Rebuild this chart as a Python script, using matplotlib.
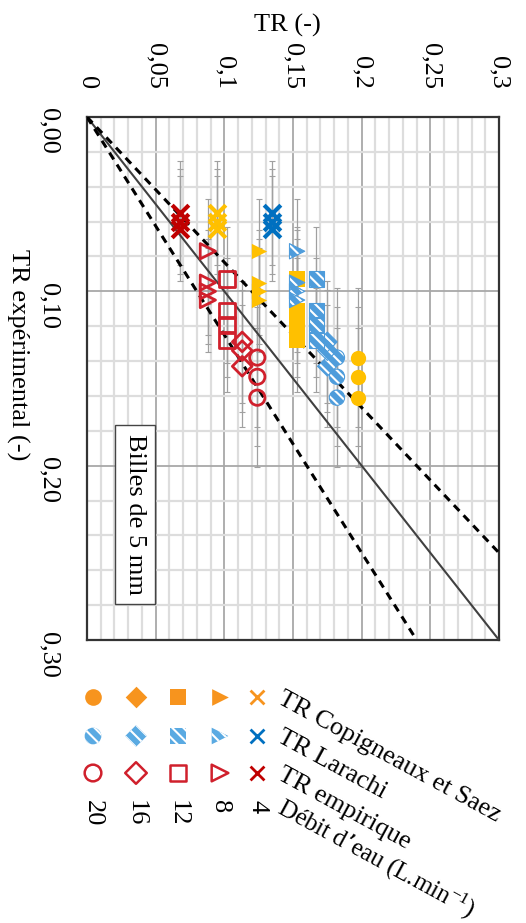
import numpy as np
import matplotlib as mpl

mpl.use("Agg")

import matplotlib.pyplot as plt
from matplotlib.ticker import MultipleLocator

mpl.rcParams["font.family"] = ["Liberation Serif", "DejaVu Serif"]
mpl.rcParams["mathtext.default"] = "regular"
mpl.rcParams["hatch.linewidth"] = 1.5

# water flow rates (L/min) and the measured TR of each run
flows = [20, 16, 12, 8, 4]
exp_20 = [0.138, 0.149, 0.161]
exp_16 = [0.129, 0.134, 0.143]
exp_12 = [0.093, 0.111, 0.119, 0.128]
exp_8 = [0.077, 0.095, 0.100, 0.105]
exp_4 = [0.055, 0.060, 0.064]
err_exp = [0.04, 0.035, 0.03, 0.03, 0.03]

# predicted TR per model and flow rate (None: not visible on the chart)
tr_copigneaux = [0.197, None, 0.153, 0.125, 0.095]
tr_larachi = [0.182, 0.175, 0.167, 0.153, 0.135]
tr_empirique = [0.124, 0.113, 0.102, 0.088, 0.068]

model_names = ["TR Copigneaux et Saez", "TR Larachi", "TR empirique"]
flow_title = "Débit d’eau (L.min$^{-1}$)"

tr_ticks = [0, 0.05, 0.1, 0.15, 0.2, 0.25, 0.3]
tr_labels = ["0", "0,05", "0,1", "0,15", "0,2", "0,25", "0,3"]
exp_ticks = [0, 0.1, 0.2, 0.3]
exp_labels = ["0,00", "0,10", "0,20", "0,30"]

W, H = 526, 923
FS = 19
HATCH = "\\\\\\"
shapes = ["o", "D", "s", ">", "x"]
sizes = [11, 10, 11, 11, 12]
yellow = "#FFC000"
blue = "#4E9CDB"
blue_x = "#0070C0"
red = "#D0202C"
red_x = "#C00000"

fig = plt.figure(figsize=(W / 100, H / 100), dpi=100)
ax = fig.add_axes([87 / W, 1 - 640 / H, 412 / W, 523 / H])
ax.set_xlim(0, 0.3)
ax.set_ylim(0.3, 0)
ax.xaxis.tick_top()
ax.set_xticks(tr_ticks, tr_labels)
ax.set_yticks(exp_ticks, exp_labels)
ax.xaxis.set_minor_locator(MultipleLocator(0.01))
ax.yaxis.set_minor_locator(MultipleLocator(0.02))
ax.tick_params(which="both", length=0)
ax.tick_params(axis="both", labelrotation=-90, labelsize=FS, pad=20)
ax.grid(which="minor", color="#dddddd", linewidth=1.6)
ax.grid(which="major", color="#a8a8a8", linewidth=1.3)
ax.set_axisbelow(True)
for spine in ax.spines.values():
    spine.set_color("#333333")
    spine.set_linewidth(1.6)

# y = x and +/-20 % lines
line = np.array([0, 0.3])
ax.plot(line, line, color="#404040", linewidth=1.5, zorder=3)
ax.plot(1.2 * line, line, color="black", linewidth=2.2,
        dashes=(2.6, 2.0), zorder=3)
ax.plot(0.8 * line, line, color="black", linewidth=2.2,
        dashes=(2.6, 2.0), zorder=3)

exp_groups = [exp_20, exp_16, exp_12, exp_8, exp_4]
for i, exp in enumerate(exp_groups):
    n = len(exp)
    m = shapes[i]
    s = sizes[i] ** 2
    for tr in (tr_empirique[i], tr_copigneaux[i], tr_larachi[i]):
        if tr is None:
            continue
        ax.errorbar([tr] * n, exp, yerr=err_exp[i], fmt="none",
                    ecolor="#a0a0a0", elinewidth=0.9, capsize=2.5,
                    capthick=0.8, zorder=2)
    # empirique: open red markers
    if m == "x":
        ax.scatter([tr_empirique[i]] * n, exp, s=s, marker=m,
                   color=red_x, linewidths=3, zorder=5)
    else:
        ax.scatter([tr_empirique[i]] * n, exp, s=s, marker=m,
                   facecolor="none", edgecolor=red, linewidths=2, zorder=5)
    # Copigneaux et Saez: filled yellow
    if tr_copigneaux[i] is not None:
        if m == "x":
            ax.scatter([tr_copigneaux[i]] * n, exp, s=s, marker=m,
                       color=yellow, linewidths=3, zorder=5)
        else:
            ax.scatter([tr_copigneaux[i]] * n, exp, s=s, marker=m,
                       color=yellow, linewidths=0, zorder=5)
    # Larachi: hatched blue
    if m == "x":
        ax.scatter([tr_larachi[i]] * n, exp, s=s, marker=m,
                   color=blue_x, linewidths=3, zorder=6)
    else:
        ax.scatter([tr_larachi[i]] * n, exp, s=s, marker=m,
                   facecolor=blue, edgecolor="white", hatch=HATCH,
                   linewidths=0, zorder=6)
        ax.scatter([tr_larachi[i]] * n, exp, s=s, marker=m,
                   facecolor="none", edgecolor=blue, linewidths=0.8, zorder=6)

ax.text(0.035, 0.228, "Billes de 5 mm", rotation=-90, ha="center",
        va="center", fontsize=FS, zorder=7,
        bbox=dict(boxstyle="square,pad=0.35", facecolor="white",
                  edgecolor="#444444", linewidth=1))

fig.text(287 / W, 1 - 25 / H, "TR (-)", ha="center", va="center", fontsize=FS)
fig.text(18 / W, 1 - 355 / H, "TR expérimental (-)", rotation=-90,
         ha="center", va="center", fontsize=FS)

# legend grid below the plot (pixel coordinates)
lax = fig.add_axes([0, 0, 1, (H - 640) / H])
lax.set_xlim(0, W)
lax.set_ylim(H, 640)
lax.axis("off")
col_x = [93, 136, 178, 220, 257]
row_y = [697, 736, 773]
leg_orange = "#F7941E"
leg_blue = "#5AAAE2"
for j in range(5):
    m = shapes[j]
    s = (sizes[j] + 1) ** 2
    cx, (y0, y1, y2) = col_x[j], row_y
    if m == "x":
        lax.scatter([cx], [y0], s=100, marker="x", color=leg_orange,
                    linewidths=2)
        lax.scatter([cx], [y1], s=100, marker="x", color=blue_x,
                    linewidths=2)
        lax.scatter([cx], [y2], s=100, marker="x", color=red_x,
                    linewidths=2)
    else:
        lax.scatter([cx], [y0], s=s, marker=m, color=leg_orange,
                    linewidths=0)
        lax.scatter([cx], [y1], s=s, marker=m, facecolor=leg_blue,
                    edgecolor="white", hatch=HATCH, linewidths=0)
        lax.scatter([cx], [y2], s=s, marker=m, facecolor="none",
                    edgecolor=red, linewidths=1.8)
    lax.text(cx, 800, str(flows[j]), rotation=-90, ha="center", va="top",
             fontsize=FS)
for k, name in enumerate(model_names):
    lax.text(279, row_y[k], name, rotation=-28.5, rotation_mode="anchor",
             ha="left", va="center", fontsize=FS)
lax.text(279, 806, flow_title, rotation=-28.5, rotation_mode="anchor",
         ha="left", va="center", fontsize=18)

fig.savefig("out.png", dpi=100)
